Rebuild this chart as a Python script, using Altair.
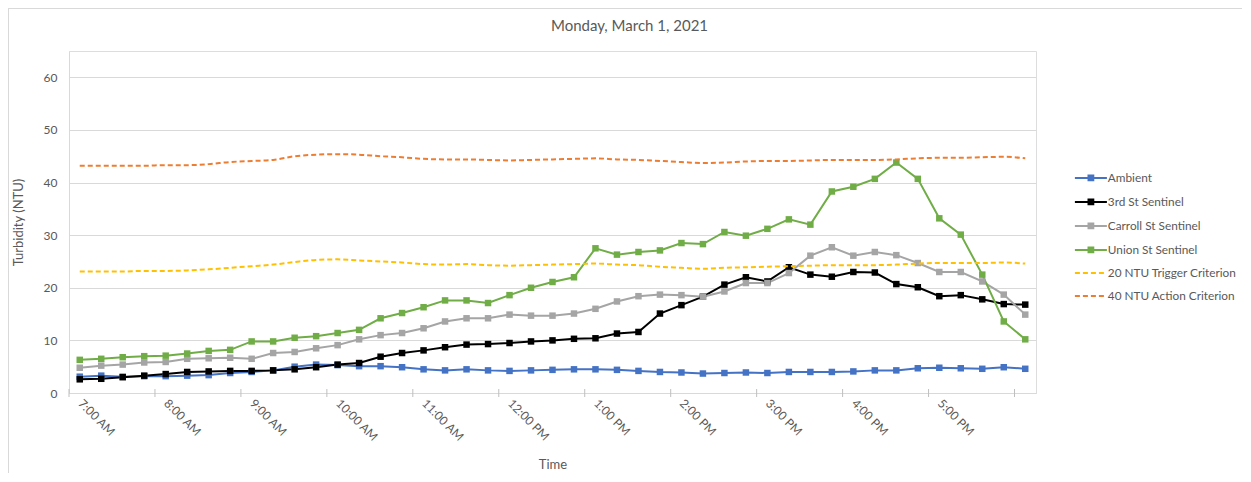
import json
import altair as alt
import pandas as pd

chart_title = "Monday, March 1, 2021"

# 15-minute categories along the x axis
times = [
    "7:00 AM", "7:15 AM", "7:30 AM", "7:45 AM", "8:00 AM", "8:15 AM", "8:30 AM", "8:45 AM",
    "9:00 AM", "9:15 AM", "9:30 AM", "9:45 AM", "10:00 AM", "10:15 AM", "10:30 AM", "10:45 AM",
    "11:00 AM", "11:15 AM", "11:30 AM", "11:45 AM", "12:00 PM", "12:15 PM", "12:30 PM", "12:45 PM",
    "1:00 PM", "1:15 PM", "1:30 PM", "1:45 PM", "2:00 PM", "2:15 PM", "2:30 PM", "2:45 PM",
    "3:00 PM", "3:15 PM", "3:30 PM", "3:45 PM", "4:00 PM", "4:15 PM", "4:30 PM", "4:45 PM",
    "5:00 PM", "5:15 PM", "5:30 PM", "5:45 PM", "6:00 PM",
]
# labelled categories (every hour)
hour_labels = ["7:00 AM", "8:00 AM", "9:00 AM", "10:00 AM", "11:00 AM", "12:00 PM",
               "1:00 PM", "2:00 PM", "3:00 PM", "4:00 PM", "5:00 PM"]
# tick marks sit between categories, every 4 categories
tick_bounds = [-0.5, 3.5, 7.5, 11.5, 15.5, 19.5, 23.5, 27.5, 31.5, 35.5, 39.5, 43.5]
y_ticks = [0, 10, 20, 30, 40, 50, 60]

ambient = [3.1, 3.3, 3.1, 3.2, 3.2, 3.3, 3.4, 3.8, 4.0, 4.3, 5.0, 5.4, 5.3, 5.1, 5.1, 4.9,
           4.5, 4.3, 4.5, 4.3, 4.2, 4.3, 4.4, 4.5, 4.5, 4.4, 4.2, 4.0, 3.9, 3.7, 3.8, 3.9,
           3.8, 4.0, 4.0, 4.0, 4.1, 4.3, 4.3, 4.7, 4.8, 4.7, 4.6, 4.9, 4.6]
third_st = [2.6, 2.7, 3.0, 3.3, 3.6, 4.0, 4.1, 4.2, 4.2, 4.3, 4.5, 4.9, 5.4, 5.7, 6.9, 7.6,
            8.1, 8.7, 9.2, 9.3, 9.5, 9.8, 10.0, 10.3, 10.4, 11.3, 11.6, 15.1, 16.7, 18.3, 20.6, 22.0,
            21.2, 23.9, 22.5, 22.1, 23.0, 22.9, 20.7, 20.1, 18.4, 18.6, 17.8, 16.9, 16.8]
carroll_st = [4.8, 5.2, 5.4, 5.8, 5.9, 6.5, 6.6, 6.7, 6.5, 7.6, 7.8, 8.5, 9.1, 10.2, 11.0, 11.4,
              12.3, 13.6, 14.2, 14.2, 14.9, 14.7, 14.7, 15.1, 16.0, 17.4, 18.4, 18.7, 18.6, 18.3, 19.3, 20.9,
              20.9, 22.8, 26.1, 27.7, 26.1, 26.8, 26.2, 24.7, 23.0, 23.0, 21.2, 18.7, 14.9]
union_st = [6.3, 6.5, 6.8, 7.0, 7.1, 7.5, 8.0, 8.2, 9.8, 9.8, 10.5, 10.8, 11.4, 12.0, 14.2, 15.2,
            16.3, 17.6, 17.6, 17.1, 18.6, 20.0, 21.1, 22.0, 27.5, 26.3, 26.8, 27.1, 28.5, 28.3, 30.6, 29.9,
            31.2, 33.0, 32.0, 38.3, 39.2, 40.7, 43.8, 40.7, 33.2, 30.1, 22.5, 13.6, 10.2]
trigger_20 = [23.1, 23.1, 23.1, 23.2, 23.2, 23.3, 23.5, 23.8, 24.1, 24.4, 24.9, 25.3, 25.4, 25.2, 25.0, 24.8,
              24.5, 24.4, 24.5, 24.3, 24.2, 24.3, 24.4, 24.5, 24.6, 24.4, 24.3, 24.0, 23.8, 23.6, 23.8, 23.9,
              24.0, 24.1, 24.2, 24.3, 24.3, 24.3, 24.4, 24.6, 24.7, 24.7, 24.7, 24.8, 24.6]
action_40 = [43.2, 43.2, 43.2, 43.2, 43.3, 43.3, 43.5, 43.9, 44.1, 44.3, 45.0, 45.3, 45.4, 45.3, 45.0, 44.8,
             44.5, 44.4, 44.4, 44.3, 44.2, 44.3, 44.4, 44.5, 44.6, 44.4, 44.3, 44.1, 43.9, 43.7, 43.8, 44.0,
             44.1, 44.1, 44.2, 44.3, 44.3, 44.3, 44.4, 44.6, 44.7, 44.7, 44.8, 44.9, 44.6]

series_names = ["Ambient", "3rd St Sentinel", "Carroll St Sentinel", "Union St Sentinel",
                "20 NTU Trigger Criterion", "40 NTU Action Criterion"]
series_values = [ambient, third_st, carroll_st, union_st, trigger_20, action_40]
series_colors = ["#4472C4", "#000000", "#A5A5A5", "#70AD47", "#FFC000", "#ED7D31"]
measured = series_names[:4]
criteria = series_names[4:]

SOLID_SYMBOL = "M-4,0H4M-0.6,-0.6H0.6V0.6H-0.6Z"
DASHED_SYMBOL = "M-4,0H4"
legend_shapes = [SOLID_SYMBOL] * 4 + [DASHED_SYMBOL] * 2
DASH = [5, 3]
dash_patterns = [[1, 0]] * 4 + [DASH] * 2

rows = []
for name, vals in zip(series_names, series_values):
    for k, (t, v) in enumerate(zip(times, vals)):
        rows.append({"k": k, "time": t, "series": name, "value": v})
df = pd.DataFrame(rows)
ticks_df = pd.DataFrame({"b": tick_bounds})

FONT = "Lato"
TXT = "#595959"
GRID = "#D9D9D9"
W, H = 967, 342
PAD_R = 206

label_expr = json.dumps(hour_labels) + "[round(datum.value / 4)]"

x_scale = alt.Scale(domain=[-0.5, len(times) - 0.5], nice=False, zero=False)
y_scale = alt.Scale(domain=[0, 65], nice=False)

x_enc = alt.X(
    "k:Q", scale=x_scale,
    axis=alt.Axis(
        title="Time", values=[4 * j for j in range(len(hour_labels))], labelExpr=label_expr,
        labelAngle=45, labelAlign="left", labelBaseline="middle", labelPadding=8,
        labelFont=FONT, labelFontSize=12, labelColor=TXT, labelOverlap=False,
        ticks=False, tickSize=0, grid=False, domainColor=GRID, domainWidth=1,
        titleFont=FONT, titleFontSize=13, titleFontWeight="normal", titleColor=TXT, titlePadding=16,
    ),
)
y_enc = alt.Y(
    "value:Q", scale=y_scale,
    axis=alt.Axis(
        title="Turbidity (NTU)", values=y_ticks, labelFont=FONT, labelFontSize=12, labelColor=TXT,
        labelPadding=12, ticks=False, tickSize=0, grid=True, gridColor=GRID, gridWidth=1,
        domainColor=GRID, domainWidth=1,
        titleFont=FONT, titleFontSize=13, titleFontWeight="normal", titleColor=TXT, titlePadding=18,
    ),
)

# data layers colour scale (listed in reverse so it is not merged with the legend's scales)
line_color_scale = alt.Scale(domain=series_names[::-1], range=series_colors[::-1])
legend_color_scale = alt.Scale(domain=series_names, range=series_colors)
dash_scale = alt.Scale(domain=series_names, range=dash_patterns)
shape_scale = alt.Scale(domain=series_names, range=legend_shapes)

base = alt.Chart(df)

measured_lines = base.transform_filter(
    alt.FieldOneOfPredicate(field="series", oneOf=measured)
).mark_line(strokeWidth=2).encode(
    x=x_enc, y=y_enc,
    color=alt.Color("series:N", scale=line_color_scale, legend=None),
    order="k:Q",
)

markers = base.transform_filter(
    alt.FieldOneOfPredicate(field="series", oneOf=measured)
).mark_square(size=42, opacity=1, filled=True).encode(
    x="k:Q", y="value:Q",
    color=alt.Color("series:N", scale=line_color_scale, legend=None),
)

criteria_lines = base.transform_filter(
    alt.FieldOneOfPredicate(field="series", oneOf=criteria)
).mark_line(strokeWidth=2, interpolate="monotone", strokeDash=DASH).encode(
    x="k:Q", y="value:Q",
    color=alt.Color("series:N", scale=line_color_scale, legend=None),
    order="k:Q",
)

tick_marks = alt.Chart(ticks_df).mark_rule(color="#BFBFBF", strokeWidth=1).encode(
    x="b:Q", y=alt.value(H - 4), y2=alt.value(H + 4),
)

leg = dict(
    title=None, orient="none", legendX=1016, legendY=121, symbolSize=64, symbolStrokeWidth=2,
    labelFont=FONT, labelFontSize=11.8, labelColor=TXT, labelOffset=11, rowPadding=10,
    symbolOpacity=1, labelLimit=0,
)
legend_layer = base.transform_filter("datum.k < 0").mark_point(filled=True, opacity=1).encode(
    x="k:Q", y="value:Q",
    shape=alt.Shape("series:N", scale=shape_scale, legend=alt.Legend(**leg)),
    fill=alt.Fill("series:N", scale=legend_color_scale, legend=alt.Legend(**leg)),
    stroke=alt.Stroke("series:N", scale=legend_color_scale, legend=alt.Legend(**leg)),
    strokeDash=alt.StrokeDash("series:N", scale=dash_scale, legend=alt.Legend(**leg)),
)

frame_left = alt.Chart(ticks_df).mark_rule(color=GRID).encode(
    x=alt.value(-60.5), y=alt.value(-42.5), y2=alt.value(H + 80)
)
frame_top = alt.Chart(ticks_df).mark_rule(color=GRID).encode(
    x=alt.value(-61), x2=alt.value(W + PAD_R), y=alt.value(-42.5)
)

chart = alt.layer(
    frame_left, frame_top, measured_lines, markers, criteria_lines, tick_marks, legend_layer
).properties(
    width=W, height=H,
    title=alt.TitleParams(chart_title, font=FONT, fontSize=15, fontWeight="normal", color=TXT,
                          anchor="middle", dx=77, offset=0, dy=26),
    autosize=alt.AutoSizeParams(type="none"),
    padding={"left": 61, "top": 43, "right": PAD_R, "bottom": 80},
).configure_view(stroke=None).configure(background="white")

chart.save("out.html", embed_options={"renderer": "svg", "actions": False})
